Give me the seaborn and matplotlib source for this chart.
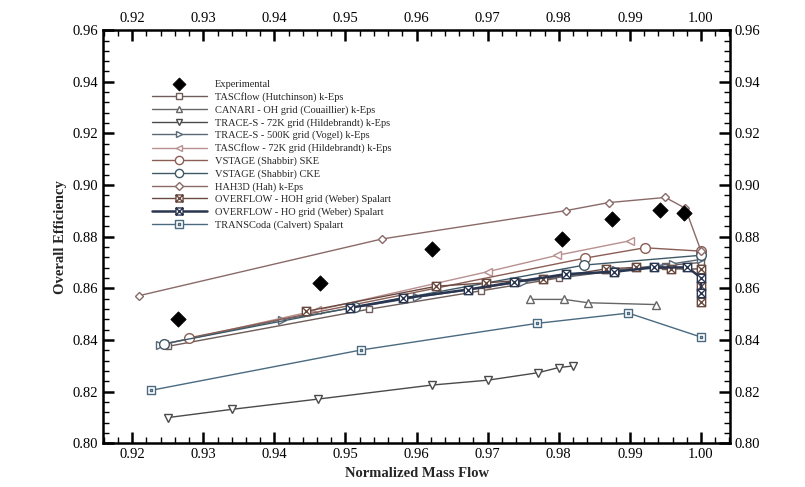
import numpy as np
import pandas as pd
import matplotlib
matplotlib.use('Agg')
import matplotlib.pyplot as plt
from matplotlib.path import Path
from matplotlib.ticker import MultipleLocator, FormatStrFormatter
import seaborn as sns

# ---------------------------------------------------------------
#  Données (débit normalisé / rendement global)
# ---------------------------------------------------------------
exp_x = [0.9264, 0.9464, 0.9621, 0.9804, 0.9875, 0.9942, 0.9976]
exp_y = [0.8481, 0.8621, 0.8752, 0.8790, 0.8868, 0.8904, 0.8893]

tasc_hut_x = [0.9250, 0.9533, 0.9690, 0.9800, 0.9880, 0.9950, 1.0000]
tasc_hut_y = [0.8375, 0.8519, 0.8590, 0.8640, 0.8668, 0.8688, 0.8700]

canari_x = [0.9760, 0.9808, 0.9841, 0.9937]
canari_y = [0.8557, 0.8557, 0.8544, 0.8537]

trace72_x = [0.9250, 0.9340, 0.9462, 0.9621, 0.9700, 0.9771, 0.9800, 0.9820]
trace72_y = [0.8099, 0.8131, 0.8171, 0.8225, 0.8244, 0.8273, 0.8293, 0.8299]

trace500_x = [0.9239, 0.9411, 0.9600, 0.9750, 0.9880, 0.9960, 1.0000]
trace500_y = [0.8381, 0.8479, 0.8565, 0.8625, 0.8670, 0.8695, 0.8712]

tasc72_x = [0.9245, 0.9460, 0.9701, 0.9798, 0.9900]
tasc72_y = [0.8383, 0.8515, 0.8665, 0.8728, 0.8784]

vske_x = [0.9280, 0.9837, 0.9921, 1.0000]
vske_y = [0.8408, 0.8717, 0.8757, 0.8744]

vcke_x = [0.9245, 0.9514, 0.9836, 1.0000]
vcke_y = [0.8385, 0.8528, 0.8690, 0.8728]

hah_x = [0.9209, 0.9551, 0.9810, 0.9870, 0.9950, 0.9978, 1.0000]
hah_y = [0.8571, 0.8791, 0.8901, 0.8932, 0.8952, 0.8910, 0.8745]

ovf_hoh_x = [0.9445, 0.9628, 0.9697, 0.9778, 0.9866, 0.9908, 0.9958, 1.0000, 1.0000, 1.0000]
ovf_hoh_y = [0.8511, 0.8608, 0.8621, 0.8637, 0.8675, 0.8681, 0.8675, 0.8675, 0.8608, 0.8548]

ovf_ho_x = [0.9506, 0.9581, 0.9672, 0.9737, 0.9810, 0.9878, 0.9934, 0.9981, 1.0000, 1.0000]
ovf_ho_y = [0.8524, 0.8561, 0.8595, 0.8624, 0.8655, 0.8664, 0.8681, 0.8681, 0.8641, 0.8581]

transcoda_x = [0.9227, 0.9522, 0.9769, 0.9898, 1.0000]
transcoda_y = [0.8205, 0.8361, 0.8464, 0.8504, 0.8411]

# ---------------------------------------------------------------
#  Marqueurs spéciaux : carré barré et carré pointé
# ---------------------------------------------------------------
box_x = Path([(-1, -1), (1, -1), (1, 1), (-1, 1), (-1, -1),
              (-1, -1), (1, 1), (-1, 1), (1, -1)],
             [Path.MOVETO, Path.LINETO, Path.LINETO, Path.LINETO, Path.CLOSEPOLY,
              Path.MOVETO, Path.LINETO, Path.MOVETO, Path.LINETO])
box_dot = Path([(-1, -1), (1, -1), (1, 1), (-1, 1), (-1, -1),
                (-0.15, -0.15), (0.15, -0.15), (0.15, 0.15), (-0.15, 0.15), (-0.15, -0.15)],
               [Path.MOVETO, Path.LINETO, Path.LINETO, Path.LINETO, Path.CLOSEPOLY,
                Path.MOVETO, Path.LINETO, Path.LINETO, Path.LINETO, Path.CLOSEPOLY])

# (label, x, y, couleur, marqueur, taille, épaisseur)
series = [
    ('TASCflow (Hutchinson) k-Eps', tasc_hut_x, tasc_hut_y, '#6e5c58', 's', 5, 1.0),
    ('CANARI - OH grid (Couaillier) k-Eps', canari_x, canari_y, '#666666', '^', 5.5, 1.0),
    ('TRACE-S - 72K grid (Hildebrandt) k-Eps', trace72_x, trace72_y, '#4a4a4a', 'v', 5.5, 1.0),
    ('TRACE-S - 500K grid (Vogel) k-Eps', trace500_x, trace500_y, '#5a6878', '>', 5.5, 1.0),
    ('TASCflow - 72K grid (Hildebrandt) k-Eps', tasc72_x, tasc72_y, '#b89090', '<', 5.5, 1.0),
    ('VSTAGE (Shabbir) SKE', vske_x, vske_y, '#8a5e55', 'o', 7, 1.0),
    ('VSTAGE (Shabbir) CKE', vcke_x, vcke_y, '#3f5a66', 'o', 7, 1.0),
    ('HAH3D (Hah) k-Eps', hah_x, hah_y, '#8a6a68', 'D', 4.5, 1.0),
    ('OVERFLOW - HOH grid (Weber) Spalart', ovf_hoh_x, ovf_hoh_y, '#6a4a40', box_x, 6, 1.0),
    ('OVERFLOW - HO grid (Weber) Spalart', ovf_ho_x, ovf_ho_y, '#2a3550', box_x, 6, 1.8),
    ('TRANSCoda (Calvert) Spalart', transcoda_x, transcoda_y, '#4a6a80', box_dot, 6, 1.0),
]

# ---------------------------------------------------------------
#  Figure
# ---------------------------------------------------------------
sns.set_theme(style='ticks')
plt.rcParams['font.family'] = ['Liberation Serif', 'DejaVu Serif']

fig = plt.figure(figsize=(8.05, 4.87), dpi=100)
ax = fig.add_axes([0.128, 0.090, 0.779, 0.848])

df_exp = pd.DataFrame({'x': exp_x, 'y': exp_y})
sns.scatterplot(data=df_exp, x='x', y='y', ax=ax, marker='D', s=60, color='black',
                edgecolor='black', label='Experimental', zorder=5)

for label, xs, ys, col, mk, ms, lw in series:
    df = pd.DataFrame({'x': xs, 'y': ys})
    sns.lineplot(data=df, x='x', y='y', ax=ax, estimator=None, sort=False,
                 color=col, linewidth=lw, marker=mk, markersize=ms,
                 markerfacecolor='white', markeredgecolor=col, markeredgewidth=1.0,
                 label=label)

ax.set_xlim(0.9159, 1.0041)
ax.set_ylim(0.80, 0.96)
ax.xaxis.set_major_locator(MultipleLocator(0.01))
ax.xaxis.set_minor_locator(MultipleLocator(0.002))
ax.yaxis.set_major_locator(MultipleLocator(0.02))
ax.yaxis.set_minor_locator(MultipleLocator(0.004))
ax.xaxis.set_major_formatter(FormatStrFormatter('%.2f'))
ax.yaxis.set_major_formatter(FormatStrFormatter('%.2f'))

ax.tick_params(which='both', direction='in', top=True, right=True,
               labeltop=True, labelright=True, labelsize=10.5, colors='black')
ax.tick_params(which='major', length=8, width=1.8)
ax.tick_params(which='minor', length=4, width=1.0)
for sp in ax.spines.values():
    sp.set_linewidth(1.8)
    sp.set_color('black')

ax.set_xlabel('Normalized Mass Flow', fontsize=10.5, fontweight='bold')
ax.set_ylabel('Overall Efficiency', fontsize=10.5, fontweight='bold')

ax.legend(loc='upper left', bbox_to_anchor=(0.072, 0.89), frameon=False,
          fontsize=7.5, handlelength=5.2, handletextpad=0.8, labelspacing=0.3,
          borderaxespad=0, markerscale=0.85)

fig.savefig('out.png', dpi=100, facecolor='white')
